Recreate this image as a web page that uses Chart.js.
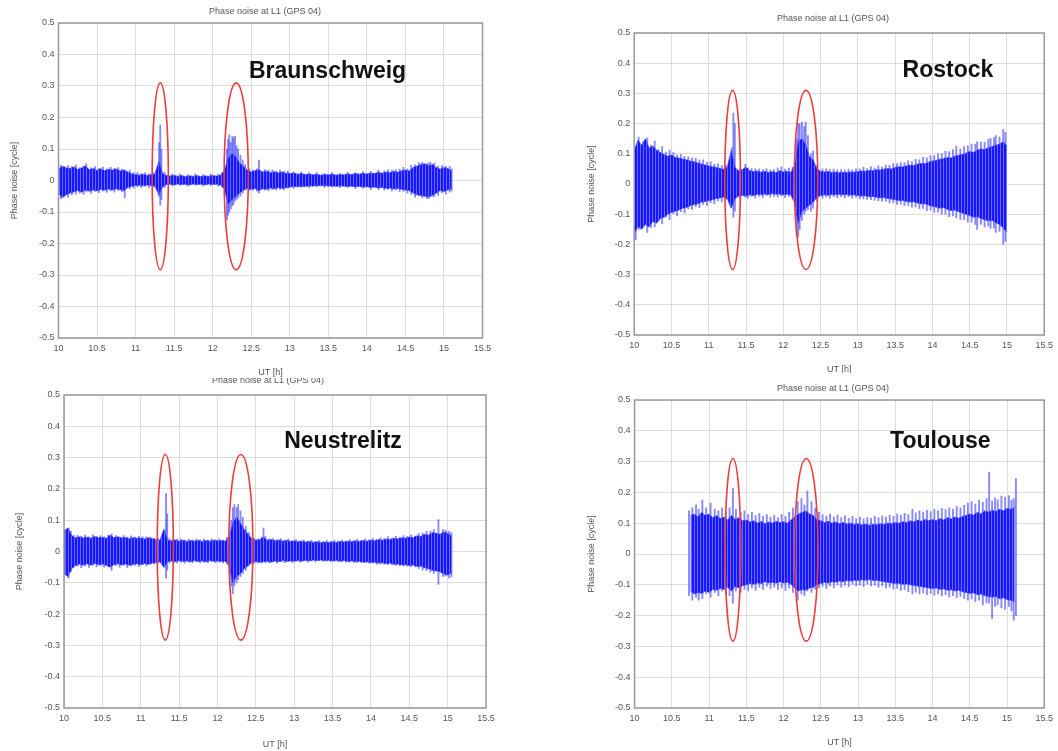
<!DOCTYPE html>
<html>
<head>
<meta charset="utf-8">
<script src="https://cdn.jsdelivr.net/npm/chart.js@4.4.1/dist/chart.umd.min.js"></script>
<style>
  html, body { margin: 0; padding: 0; background: #fff; }
  body { width: 1058px; height: 751px; position: relative; overflow: hidden; }
  canvas { position: absolute; background: #fff; }
</style>
</head>
<body>
<canvas id="p1" width="530" height="381" style="left:0;top:0"></canvas>
<canvas id="p2" width="528" height="378" style="left:530px;top:0"></canvas>
<canvas id="p3" width="530" height="373" style="left:0;top:378px"></canvas>
<canvas id="p4" width="528" height="378" style="left:530px;top:373px"></canvas>
<script>
// sampling grid of the envelopes [h]
const hours = [
    10.00, 10.05, 10.10, 10.15, 10.20, 10.25, 10.30, 10.35, 10.40, 10.45,
    10.50, 10.55, 10.60, 10.65, 10.70, 10.75, 10.80, 10.85, 10.90, 10.95,
    11.00, 11.05, 11.10, 11.15, 11.20, 11.25, 11.30, 11.35, 11.40, 11.45,
    11.50, 11.55, 11.60, 11.65, 11.70, 11.75, 11.80, 11.85, 11.90, 11.95,
    12.00, 12.05, 12.10, 12.15, 12.20, 12.25, 12.30, 12.35, 12.40, 12.45,
    12.50, 12.55, 12.60, 12.65, 12.70, 12.75, 12.80, 12.85, 12.90, 12.95,
    13.00, 13.05, 13.10, 13.15, 13.20, 13.25, 13.30, 13.35, 13.40, 13.45,
    13.50, 13.55, 13.60, 13.65, 13.70, 13.75, 13.80, 13.85, 13.90, 13.95,
    14.00, 14.05, 14.10, 14.15, 14.20, 14.25, 14.30, 14.35, 14.40, 14.45,
    14.50, 14.55, 14.60, 14.65, 14.70, 14.75, 14.80, 14.85, 14.90, 14.95,
    15.00, 15.05, 15.10, 15.15,
];

const xTicks = [10, 10.5, 11, 11.5, 12, 12.5, 13, 13.5, 14, 14.5, 15, 15.5];
const yTicks = [-0.5, -0.4, -0.3, -0.2, -0.1, 0, 0.1, 0.2, 0.3, 0.4, 0.5];

// Braunschweig: dense core of the phase noise [cycle], upper / lower edge, from 10.00 h
const brUpper = [
    .035, .045, .040, .038, .043, .035, .040, .046, .034, .038,
    .032, .037, .031, .036, .033, .037, .030, .033, .027, .021,
    .019, .017, .020, .016, .019, .021, .060, .022, .016, .014,
    .017, .013, .016, .012, .015, .013, .016, .012, .015, .013,
    .016, .014, .017, .030, .070, .085, .075, .055, .045, .032,
    .027, .031, .034, .027, .030, .025, .028, .024, .027, .023,
    .022, .024, .020, .022, .019, .021, .018, .020, .017, .019,
    .018, .020, .017, .019, .018, .021, .019, .022, .020, .023,
    .021, .024, .022, .026, .023, .027, .025, .029, .026, .031,
    .033, .030, .041, .046, .050, .053, .047, .050, .041, .036,
    .041, .038, .030,
];
const brLower = [
    -.040, -.055, -.045, -.040, -.036, -.032, -.037, -.030, -.034, -.030,
    -.033, -.028, -.031, -.027, -.030, -.026, -.029, -.032, -.022, -.018,
    -.016, -.015, -.017, -.014, -.016, -.018, -.045, -.020, -.013, -.012,
    -.014, -.011, -.013, -.012, -.014, -.011, -.013, -.012, -.014, -.011,
    -.013, -.012, -.014, -.025, -.075, -.060, -.050, -.040, -.030, -.025,
    -.028, -.025, -.032, -.026, -.028, -.024, -.026, -.023, -.025, -.022,
    -.021, -.019, -.020, -.018, -.019, -.017, -.018, -.016, -.017, -.016,
    -.018, -.017, -.019, -.017, -.018, -.019, -.018, -.020, -.019, -.021,
    -.020, -.022, -.021, -.024, -.022, -.025, -.024, -.027, -.025, -.028,
    -.030, -.032, -.040, -.045, -.048, -.050, -.052, -.046, -.040, -.032,
    -.035, -.030, -.025,
];
// single samples sticking out of the core: [h, min, max]
const brSpikes = [
    [10.03, -.058, .048], [10.075, -.050, .044], [10.125, -.053, .047], [10.175, -.045, .044], [10.225, -.043, .049],
    [10.275, -.040, .041], [10.325, -.044, .046], [10.36, -.036, .053], [10.425, -.041, .040], [10.475, -.035, .044],
    [10.525, -.039, .039], [10.575, -.034, .043], [10.625, -.038, .037], [10.675, -.033, .042], [10.725, -.037, .039],
    [10.775, -.032, .041], [10.825, -.036, .036], [10.86, -.055, .034], [10.925, -.027, .033], [10.975, -.025, .026],
    [11.025, -.020, .025], [11.075, -.023, .022], [11.125, -.019, .025], [11.175, -.022, .021], [11.225, -.021, .026],
    [11.305, -.050, .120], [11.32, -.078, .176], [11.335, -.060, .100], [11.375, -.023, .027], [11.475, -.017, .020],
    [11.575, -.016, .021], [11.675, -.018, .019], [11.775, -.015, .021], [11.875, -.017, .019], [11.975, -.016, .021],
    [12.075, -.018, .020], [12.125, -.022, .026], [12.185, -.125, .100], [12.2, -.110, .130], [12.215, -.100, .145],
    [12.235, -.090, .120], [12.255, -.080, .140], [12.27, -.075, .135], [12.29, -.065, .140], [12.31, -.060, .110],
    [12.33, -.055, .100], [12.36, -.050, .080], [12.39, -.040, .065], [12.42, -.030, .050], [12.475, -.033, .037],
    [12.525, -.031, .033], [12.575, -.034, .037], [12.6, -.040, .065], [12.675, -.031, .035], [12.725, -.033, .033],
    [12.775, -.029, .034], [12.825, -.031, .030], [12.875, -.028, .033], [12.925, -.029, .029], [12.975, -.025, .030],
    [13.05, -.025, .027], [13.15, -.022, .027], [13.25, -.023, .024], [13.35, -.020, .025], [13.45, -.022, .022],
    [13.55, -.021, .025], [13.65, -.023, .022], [13.75, -.022, .026], [13.85, -.025, .025], [13.95, -.024, .028],
    [14.05, -.028, .028], [14.15, -.028, .032], [14.225, -.031, .031], [14.275, -.028, .034], [14.325, -.033, .033],
    [14.375, -.030, .035], [14.425, -.035, .036], [14.475, -.035, .042], [14.525, -.040, .037], [14.575, -.045, .048],
    [14.625, -.053, .050], [14.675, -.049, .057], [14.72, -.055, .058], [14.775, -.057, .053], [14.8, -.058, .056],
    [14.825, -.052, .058], [14.86, -.051, .051], [14.875, -.049, .055], [14.925, -.047, .046], [14.975, -.039, .047],
    [15.025, -.043, .045], [15.075, -.037, .045], [15.1, -.033, .036],
];

// Rostock, from 10.00 h
const roUpper = [
    .110, .145, .128, .150, .118, .126, .112, .104, .098, .092,
    .096, .088, .086, .083, .080, .076, .074, .070, .066, .063,
    .060, .057, .055, .051, .049, .058, .110, .055, .044, .048,
    .055, .044, .041, .043, .039, .042, .038, .041, .037, .044,
    .040, .042, .038, .060, .140, .150, .130, .090, .080, .050,
    .042, .040, .041, .038, .040, .037, .039, .038, .040, .039,
    .041, .043, .042, .045, .044, .047, .046, .049, .051, .050,
    .055, .057, .056, .060, .062, .061, .066, .068, .067, .072,
    .076, .078, .082, .084, .088, .086, .092, .095, .098, .102,
    .108, .104, .112, .116, .114, .120, .124, .128, .132, .140,
    .125,
];
const roLower = [
    -.165, -.140, -.150, -.134, -.142, -.124, -.130, -.114, -.110, -.100,
    -.094, -.090, -.086, -.080, -.078, -.072, -.068, -.066, -.060, -.058,
    -.055, -.052, -.048, -.046, -.043, -.050, -.080, -.050, -.040, -.038,
    -.040, -.036, -.038, -.034, -.036, -.033, -.035, -.032, -.034, -.033,
    -.036, -.034, -.036, -.060, -.130, -.090, -.080, -.070, -.060, -.045,
    -.038, -.036, -.037, -.035, -.036, -.034, -.036, -.035, -.037, -.036,
    -.038, -.040, -.039, -.042, -.041, -.044, -.046, -.045, -.048, -.050,
    -.052, -.055, -.054, -.058, -.060, -.059, -.063, -.066, -.065, -.070,
    -.074, -.076, -.080, -.078, -.084, -.088, -.086, -.092, -.096, -.100,
    -.104, -.110, -.108, -.114, -.118, -.122, -.120, -.128, -.134, -.145,
    -.160,
];
const roSpikes = [
    [10.02, -.185, .120], [10.06, -.150, .155], [10.12, -.140, .140], [10.175, -.160, .152], [10.225, -.145, .128],
    [10.275, -.142, .142], [10.325, -.122, .114], [10.375, -.132, .124], [10.425, -.110, .106], [10.475, -.118, .112],
    [10.525, -.098, .104], [10.575, -.106, .096], [10.625, -.092, .098], [10.675, -.096, .092], [10.725, -.082, .090],
    [10.775, -.084, .086], [10.825, -.075, .085], [10.875, -.078, .079], [10.925, -.068, .080], [10.975, -.071, .072],
    [11.025, -.062, .073], [11.075, -.065, .066], [11.125, -.056, .067], [11.175, -.059, .061], [11.225, -.052, .063],
    [11.31, -.060, .120], [11.33, -.110, .235], [11.35, -.090, .200], [11.425, -.049, .050], [11.49, -.044, .065],
    [11.525, -.047, .053], [11.575, -.041, .051], [11.625, -.046, .050], [11.675, -.040, .049], [11.725, -.045, .048],
    [11.775, -.039, .050], [11.825, -.044, .047], [11.875, -.041, .048], [11.925, -.043, .053], [11.975, -.040, .057],
    [12.025, -.045, .049], [12.075, -.041, .053], [12.125, -.049, .055], [12.18, -.170, .150], [12.2, -.175, .200],
    [12.22, -.150, .200], [12.25, -.120, .205], [12.28, -.100, .190], [12.3, -.090, .205], [12.33, -.085, .160],
    [12.37, -.090, .100], [12.4, -.080, .110], [12.45, -.055, .060], [12.525, -.047, .049], [12.575, -.043, .050],
    [12.625, -.047, .048], [12.675, -.042, .049], [12.725, -.046, .047], [12.775, -.042, .048], [12.825, -.046, .046],
    [12.875, -.043, .049], [12.925, -.047, .047], [12.975, -.044, .050], [13.025, -.049, .050], [13.075, -.049, .055],
    [13.125, -.051, .051], [13.175, -.052, .057], [13.225, -.054, .053], [13.275, -.055, .060], [13.325, -.057, .056],
    [13.375, -.058, .063], [13.425, -.063, .062], [13.475, -.063, .068], [13.525, -.068, .068], [13.575, -.067, .071],
    [13.625, -.072, .071], [13.675, -.071, .077], [13.725, -.077, .074], [13.775, -.076, .082], [13.825, -.082, .080],
    [13.875, -.081, .088], [13.925, -.088, .087], [13.975, -.087, .094], [14.025, -.094, .094], [14.075, -.093, .100],
    [14.125, -.100, .100], [14.175, -.100, .108], [14.225, -.108, .107], [14.275, -.106, .114], [14.32, -.112, .125],
    [14.375, -.118, .116], [14.425, -.118, .124], [14.475, -.126, .126], [14.525, -.126, .132], [14.575, -.134, .132],
    [14.6, -.150, .140], [14.65, -.134, .140], [14.7, -.142, .138], [14.75, -.140, .148], [14.78, -.147, .150],
    [14.825, -.146, .154], [14.85, -.160, .160], [14.9, -.157, .156], [14.95, -.200, .180], [14.98, -.190, .170],
];

// Neustrelitz, from 10.00 h
const neUpper = [
    .065, .075, .050, .044, .047, .043, .046, .042, .048, .044,
    .045, .042, .052, .044, .047, .043, .045, .041, .044, .042,
    .043, .040, .044, .041, .038, .036, .070, .036, .034, .037,
    .033, .036, .032, .035, .033, .036, .032, .035, .033, .036,
    .034, .035, .033, .045, .090, .110, .090, .070, .055, .040,
    .036, .038, .045, .036, .038, .034, .037, .033, .036, .032,
    .034, .031, .033, .030, .032, .029, .031, .028, .030, .029,
    .031, .029, .032, .030, .033, .031, .034, .032, .035, .033,
    .036, .034, .038, .036, .040, .038, .042, .040, .044, .042,
    .046, .044, .050, .048, .055, .052, .060, .058, .055, .062,
    .058, .050,
];
const neLower = [
    -.070, -.080, -.055, -.045, -.040, -.044, -.039, -.043, -.038, -.042,
    -.040, -.044, -.050, -.042, -.039, -.043, -.040, -.044, -.041, -.039,
    -.042, -.038, -.041, -.037, -.035, -.033, -.050, -.032, -.030, -.033,
    -.029, -.032, -.030, -.033, -.029, -.032, -.030, -.033, -.029, -.031,
    -.030, -.032, -.030, -.045, -.100, -.080, -.070, -.055, -.045, -.035,
    -.032, -.034, -.033, -.031, -.034, -.030, -.033, -.029, -.032, -.030,
    -.031, -.029, -.031, -.028, -.030, -.027, -.029, -.027, -.029, -.028,
    -.030, -.028, -.031, -.029, -.032, -.030, -.033, -.031, -.034, -.033,
    -.035, -.034, -.037, -.036, -.039, -.037, -.041, -.040, -.043, -.042,
    -.045, -.043, -.048, -.046, -.052, -.055, -.060, -.062, -.065, -.072,
    -.075, -.068,
];
const neSpikes = [
    [10.01, -.060, .055], [10.03, -.075, .070], [10.06, -.085, .075], [10.09, -.065, .065], [10.125, -.050, .052],
    [10.175, -.047, .051], [10.225, -.052, .049], [10.275, -.046, .053], [10.325, -.051, .047], [10.375, -.045, .054],
    [10.425, -.049, .048], [10.475, -.046, .051], [10.525, -.050, .047], [10.575, -.047, .052], [10.62, -.060, .056],
    [10.675, -.045, .051], [10.725, -.050, .046], [10.775, -.044, .051], [10.825, -.051, .046], [10.875, -.046, .050],
    [10.925, -.044, .046], [10.975, -.048, .049], [11.025, -.042, .047], [11.075, -.046, .047], [11.125, -.041, .046],
    [11.175, -.040, .042], [11.225, -.038, .042], [11.31, -.050, .070], [11.33, -.085, .185], [11.345, -.060, .120],
    [11.375, -.037, .041], [11.425, -.035, .038], [11.475, -.037, .039], [11.525, -.033, .040], [11.575, -.037, .037],
    [11.625, -.034, .040], [11.675, -.036, .037], [11.725, -.033, .040], [11.775, -.037, .037], [11.825, -.034, .040],
    [11.875, -.036, .037], [11.925, -.033, .040], [11.975, -.036, .038], [12.025, -.034, .040], [12.075, -.037, .037],
    [12.125, -.040, .045], [12.18, -.110, .100], [12.2, -.135, .140], [12.22, -.110, .150], [12.25, -.100, .140],
    [12.27, -.090, .150], [12.3, -.080, .130], [12.33, -.070, .110], [12.37, -.060, .080], [12.41, -.045, .060],
    [12.475, -.038, .043], [12.525, -.037, .040], [12.575, -.037, .046], [12.6, -.030, .075], [12.625, -.036, .048],
    [12.675, -.036, .040], [12.725, -.033, .041], [12.775, -.037, .037], [12.825, -.033, .041], [12.875, -.036, .036],
    [12.925, -.032, .040], [12.975, -.035, .035], [13.025, -.031, .038], [13.075, -.034, .034], [13.125, -.030, .037],
    [13.175, -.034, .033], [13.225, -.030, .036], [13.275, -.033, .032], [13.325, -.029, .035], [13.375, -.032, .032],
    [13.425, -.031, .035], [13.475, -.032, .032], [13.525, -.032, .036], [13.575, -.033, .033], [13.625, -.033, .037],
    [13.675, -.034, .034], [13.725, -.034, .038], [13.775, -.035, .035], [13.825, -.035, .039], [13.875, -.036, .036],
    [13.925, -.036, .040], [13.975, -.037, .037], [14.025, -.037, .042], [14.075, -.041, .039], [14.125, -.040, .044],
    [14.175, -.041, .041], [14.225, -.042, .047], [14.275, -.043, .043], [14.325, -.044, .049], [14.375, -.045, .045],
    [14.425, -.046, .051], [14.475, -.047, .048], [14.525, -.049, .053], [14.575, -.049, .049], [14.625, -.054, .057],
    [14.675, -.059, .059], [14.725, -.061, .065], [14.775, -.066, .065], [14.82, -.070, .070], [14.88, -.105, .102],
    [14.94, -.080, .070], [14.975, -.078, .068], [15.02, -.085, .065], [15.05, -.080, .060],
];

// Toulouse, from 10.75 h
const toUpper = [
    .125, .130, .120, .135, .125,
    .130, .118, .125, .115, .120, .110, .125, .112, .118, .108,
    .110, .104, .108, .100, .106, .098, .104, .100, .106, .102,
    .105, .100, .110, .120, .130, .135, .140, .130, .125, .110,
    .108, .102, .106, .100, .104, .098, .102, .097, .100, .096,
    .098, .094, .097, .093, .096, .095, .098, .096, .100, .098,
    .102, .100, .105, .102, .108, .104, .110, .106, .112, .108,
    .112, .108, .115, .110, .118, .114, .120, .116, .122, .125,
    .130, .126, .135, .130, .140, .136, .142, .138, .145, .140,
    .148, .145, .150,
];
const toLower = [
    -.120, -.130, -.125, -.128, -.120,
    -.125, -.115, -.118, -.112, -.115, -.108, -.120, -.105, -.110, -.102,
    -.100, -.096, -.098, -.094, -.096, -.090, -.094, -.092, -.095, -.090,
    -.094, -.092, -.098, -.110, -.120, -.115, -.118, -.110, -.108, -.100,
    -.096, -.092, -.094, -.090, -.092, -.088, -.090, -.086, -.088, -.085,
    -.086, -.084, -.085, -.083, -.086, -.085, -.088, -.090, -.092, -.094,
    -.096, -.095, -.098, -.097, -.100, -.102, -.104, -.106, -.108, -.110,
    -.112, -.110, -.115, -.113, -.118, -.116, -.120, -.118, -.122, -.125,
    -.128, -.126, -.132, -.130, -.135, -.138, -.140, -.138, -.145, -.142,
    -.148, -.150, -.155,
];
const toSpikes = [
    [10.73, -.135, .140], [10.775, -.150, .150], [10.825, -.140, .160], [10.86, -.150, .145], [10.91, -.145, .175],
    [10.96, -.130, .150], [11.02, -.140, .165], [11.075, -.125, .145], [11.125, -.135, .140], [11.175, -.120, .150],
    [11.225, -.130, .135], [11.275, -.135, .150], [11.32, -.160, .213], [11.36, -.120, .145], [11.425, -.125, .135],
    [11.475, -.115, .140], [11.525, -.120, .128], [11.575, -.110, .135], [11.625, -.118, .125], [11.675, -.108, .132],
    [11.725, -.115, .122], [11.775, -.105, .128], [11.825, -.112, .120], [11.875, -.108, .126], [11.925, -.115, .118],
    [11.975, -.110, .128], [12.025, -.118, .122], [12.075, -.110, .135], [12.125, -.125, .150], [12.19, -.150, .170],
    [12.24, -.130, .180], [12.28, -.135, .160], [12.32, -.120, .205], [12.375, -.125, .170], [12.425, -.115, .150],
    [12.475, -.110, .135], [12.525, -.105, .128], [12.575, -.112, .122], [12.625, -.104, .130], [12.675, -.110, .120],
    [12.725, -.100, .126], [12.775, -.108, .118], [12.825, -.102, .124], [12.875, -.106, .116], [12.925, -.098, .122],
    [12.975, -.104, .115], [13.025, -.100, .120], [13.075, -.106, .114], [13.125, -.098, .118], [13.175, -.104, .116],
    [13.225, -.102, .122], [13.275, -.108, .118], [13.325, -.104, .124], [13.375, -.110, .120], [13.425, -.108, .126],
    [13.475, -.114, .122], [13.525, -.112, .130], [13.575, -.118, .126], [13.625, -.116, .132], [13.675, -.122, .128],
    [13.73, -.130, .145], [13.775, -.124, .134], [13.825, -.130, .140], [13.875, -.126, .136], [13.925, -.132, .142],
    [13.975, -.128, .138], [14.025, -.134, .146], [14.075, -.130, .140], [14.125, -.136, .148], [14.175, -.132, .144],
    [14.225, -.140, .150], [14.275, -.135, .146], [14.325, -.142, .155], [14.375, -.138, .150], [14.425, -.145, .158],
    [14.475, -.150, .165], [14.525, -.146, .170], [14.575, -.155, .162], [14.625, -.150, .175], [14.675, -.165, .168],
    [14.725, -.158, .180], [14.76, -.160, .265], [14.8, -.210, .172], [14.84, -.170, .182], [14.875, -.165, .176],
    [14.925, -.175, .188], [14.975, -.180, .185], [15.025, -.170, .190], [15.06, -.185, .175], [15.09, -.215, .180],
    [15.12, -.200, .245],
];

// the red marks: centre time, half width [h], top and bottom [cycle]
const ellipses = [
    { t: 11.32, hw: 0.105, top: 0.31, bottom: -0.283 },
    { t: 12.305, hw: 0.157, top: 0.31, bottom: -0.283 },
];

Chart.defaults.font.family = '"Liberation Sans", Arial, sans-serif';
Chart.defaults.font.size = 9;
Chart.defaults.color = "#555";

// fine vertical streaks, like the many sample-to-sample lines of the plot
function streaks(canvas) {
    const tile = document.createElement("canvas");
    tile.width = 3;
    tile.height = 4;
    const g = tile.getContext("2d");
    g.fillStyle = "rgb(22, 22, 255)";
    g.fillRect(0, 0, 3, 4);
    g.fillStyle = "rgb(105, 105, 255)";
    g.fillRect(2, 0, 1, 4);
    return canvas.getContext("2d").createPattern(tile, "repeat");
}

const overlay = {
    id: "overlay",
    afterDatasetsDraw(chart, args, opts) {
        const { ctx, chartArea: a } = chart;
        const x = chart.scales.x, y = chart.scales.y;
        ctx.save();
        ctx.strokeStyle = "#999";
        ctx.lineWidth = 1.5;
        ctx.strokeRect(a.left, a.top, a.right - a.left, a.bottom - a.top);

        ctx.strokeStyle = "#ee3b3b";
        ctx.lineWidth = 1.6;
        ellipses.forEach((e) => {
            const cx = x.getPixelForValue(e.t);
            const rx = x.getPixelForValue(e.t + e.hw) - cx;
            const top = y.getPixelForValue(e.top);
            const bot = y.getPixelForValue(e.bottom);
            ctx.beginPath();
            ctx.ellipse(cx, (top + bot) / 2, rx, (bot - top) / 2, 0, 0, 2 * Math.PI);
            ctx.stroke();
        });

        ctx.fillStyle = "#111";
        ctx.font = 'bold 23px "Liberation Sans", Arial, sans-serif';
        ctx.textAlign = "left";
        ctx.textBaseline = "middle";
        ctx.fillText(opts.station, x.getPixelForValue(opts.stationAt[0]), y.getPixelForValue(opts.stationAt[1]));

        ctx.fillStyle = "#555";
        ctx.font = '9px "Liberation Sans", Arial, sans-serif';
        ctx.textAlign = "center";
        ctx.fillText("Phase noise at L1 (GPS 04)", opts.titleAt[0], opts.titleAt[1]);
        ctx.restore();
    },
};

function makeChart(id, p) {
    const canvas = document.getElementById(id);
    const band = (arr) => arr.map((v, i) => ({ x: hours[p.start + i], y: v }));
    const spikes = p.spikes.map((s) => ({ x: s[0], y: [s[1], s[2]] }));

    const config = {
        type: "line",
        data: {
            datasets: [
                {
                    label: "upper",
                    data: band(p.upper),
                    borderColor: "rgba(60, 60, 255, 0.7)",
                    borderWidth: 1,
                    pointRadius: 0,
                    fill: false,
                    order: 1,
                },
                {
                    label: "lower",
                    data: band(p.lower),
                    borderColor: "rgba(60, 60, 255, 0.7)",
                    borderWidth: 1,
                    pointRadius: 0,
                    backgroundColor: streaks(canvas),
                    fill: "-1",
                    order: 1,
                },
                {
                    type: "bar",
                    label: "spikes",
                    data: spikes,
                    backgroundColor: "rgba(70, 70, 255, 0.65)",
                    barThickness: 1.2,
                    order: 2,
                },
            ],
        },
        options: {
            responsive: false,
            animation: false,
            devicePixelRatio: 1,
            layout: { padding: { left: p.padLeft, right: p.padRight, top: p.top, bottom: 0 } },
            plugins: {
                legend: { display: false },
                tooltip: { enabled: false },
                overlay: { station: p.station, stationAt: p.stationAt, titleAt: p.titleAt },
            },
            scales: {
                x: {
                    type: "linear",
                    min: 10,
                    max: 15.5,
                    offset: false,
                    afterBuildTicks: (s) => { s.ticks = xTicks.map((v) => ({ value: v })); },
                    afterFit: (s) => { s.height = p.xAxisH; },
                    grid: { color: "#dcdcdc", lineWidth: 1, drawTicks: false, offset: false },
                    border: { display: false },
                    ticks: { padding: 5, maxRotation: 0, autoSkip: false, callback: (v) => String(v) },
                    title: { display: true, text: "UT [h]", padding: { top: 0, bottom: p.xTitlePad } },
                },
                y: {
                    type: "linear",
                    min: -0.5,
                    max: 0.5,
                    afterBuildTicks: (s) => { s.ticks = yTicks.map((v) => ({ value: v })); },
                    afterFit: (s) => { s.width = p.yAxisW; },
                    grid: { color: "#dcdcdc", lineWidth: 1, drawTicks: false },
                    border: { display: false },
                    ticks: { padding: 4, callback: (v) => String(Math.round(v * 10) / 10) },
                    title: { display: true, text: "Phase noise [cycle]", padding: { top: p.yTitlePad, bottom: 0 } },
                },
            },
        },
        plugins: [overlay],
    };

    return new Chart(canvas, config);
}

makeChart("p1", {
    station: "Braunschweig", stationAt: [12.47, 0.345], titleAt: [265, 12],
    start: 0, upper: brUpper, lower: brLower, spikes: brSpikes,
    padLeft: 0, padRight: 47.5, top: 23, yAxisW: 58.5, xAxisH: 43, yTitlePad: 9.5, xTitlePad: 2.6,
});
makeChart("p2", {
    station: "Rostock", stationAt: [13.6, 0.374], titleAt: [303, 19],
    start: 0, upper: roUpper, lower: roLower, spikes: roSpikes,
    padLeft: 47, padRight: 10, top: 33, yAxisW: 57.2, xAxisH: 43, yTitlePad: 9.3, xTitlePad: 2.6,
});
makeChart("p3", {
    station: "Neustrelitz", stationAt: [12.87, 0.35], titleAt: [268, 3],
    start: 0, upper: neUpper, lower: neLower, spikes: neSpikes,
    padLeft: 0, padRight: 44, top: 17, yAxisW: 64, xAxisH: 43, yTitlePad: 14.6, xTitlePad: 0.6,
});
makeChart("p4", {
    station: "Toulouse", stationAt: [13.43, 0.364], titleAt: [303, 16],
    start: 15, upper: toUpper, lower: toLower, spikes: toSpikes,
    padLeft: 47, padRight: 9, top: 27, yAxisW: 57.6, xAxisH: 43, yTitlePad: 9.3, xTitlePad: 2.6,
});
</script>
</body>
</html>
